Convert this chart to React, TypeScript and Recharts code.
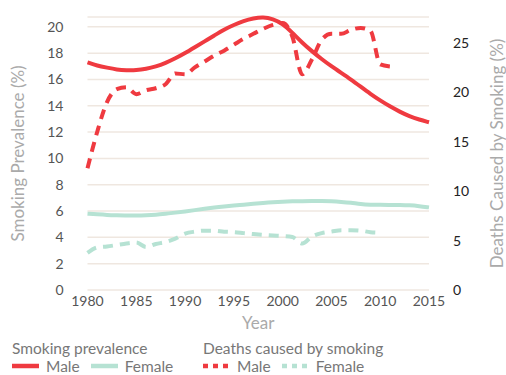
import React from 'react';
import { LineChart, Line, XAxis, YAxis, CartesianGrid } from 'recharts';

const years = [
  1980, 1981, 1982, 1983, 1984, 1985, 1986, 1987, 1988, 1989,
  1990, 1991, 1992, 1993, 1994, 1995, 1996, 1997, 1998, 1999,
  2000, 2001, 2002, 2003, 2004, 2005, 2006, 2007, 2008, 2009,
  2010, 2011, 2012, 2013, 2014, 2015,
];

const malePrevalence = [
  17.3, 17.05, 16.9, 16.75, 16.7, 16.7, 16.8, 16.98, 17.25, 17.6,
  18.0, 18.45, 18.9, 19.35, 19.8, 20.15, 20.45, 20.65, 20.75, 20.6,
  20.25, 19.55, 18.8, 18.15, 17.55, 17.0, 16.5, 16.0, 15.45, 14.9,
  14.4, 13.95, 13.55, 13.2, 12.95, 12.75,
];

const femalePrevalence = [
  5.8, 5.75, 5.7, 5.68, 5.66, 5.66, 5.68, 5.72, 5.8, 5.88,
  5.97, 6.07, 6.17, 6.27, 6.35, 6.42, 6.48, 6.55, 6.62, 6.68,
  6.72, 6.74, 6.75, 6.76, 6.76, 6.74, 6.7, 6.64, 6.52, 6.48,
  6.47, 6.47, 6.46, 6.44, 6.38, 6.28,
];

const maleDeaths = [
  12.3, 16.0, 19.0, 20.3, 20.5, 19.8, 20.2, 20.4, 20.8, 21.9,
  21.8, 22.5, 23.1, 23.7, 24.2, 24.8, 25.4, 25.9, 26.4, 26.8,
  27.0, 25.6, 21.8, 23.3, 25.3, 25.9, 25.9, 26.3, 26.5, 26.2,
  22.8, 22.6, null, null, null, null,
];

const femaleDeaths = [
  3.75, 4.3, 4.4, 4.55, 4.7, 4.8, 4.35, 4.65, 4.85, 5.2,
  5.7, 5.9, 6.0, 6.0, 5.9, 5.85, 5.75, 5.65, 5.57, 5.5,
  5.45, 5.35, 4.7, 5.4, 5.75, 5.9, 6.05, 6.05, 6.0, 5.85,
  5.8, null, null, null, null, null,
];

const xTicks = [1980, 1985, 1990, 1995, 2000, 2005, 2010, 2015];
const leftTicks = [0, 2, 4, 6, 8, 10, 12, 14, 16, 18, 20];
const rightTicks = [0, 5, 10, 15, 20, 25];

const data = years.map((year, i) => ({
  year,
  malePrev: malePrevalence[i],
  femalePrev: femalePrevalence[i],
  maleDeath: maleDeaths[i],
  femaleDeath: femaleDeaths[i],
}));

const RED = '#ef3a40';
const TEAL = '#b6e2d3';
const FONT = 'Lato, sans-serif';

const LegendSwatch = ({ color, dashed }: { color: string; dashed?: boolean }) => (
  <svg width={27} height={6} style={{ display: 'block' }}>
    <line
      x1={0}
      y1={3}
      x2={27}
      y2={3}
      stroke={color}
      strokeWidth={4.5}
      strokeDasharray={dashed ? '5 5' : undefined}
    />
  </svg>
);

const LegendItem = ({ color, dashed, text }: { color: string; dashed?: boolean; text: string }) => (
  <div style={{ display: 'flex', alignItems: 'center', marginRight: 11, height: 18 }}>
    <LegendSwatch color={color} dashed={dashed} />
    <span style={{ marginLeft: 7 }}>{text}</span>
  </div>
);

const legendBox: React.CSSProperties = {
  position: 'absolute',
  top: 339,
  color: '#777',
  fontSize: 15.5,
  lineHeight: '18px',
  whiteSpace: 'nowrap',
};

export default function App() {
  return (
    <div
      style={{
        position: 'absolute',
        left: 0,
        top: 0,
        width: 506,
        height: 375,
        background: '#fff',
        fontFamily: FONT,
        overflow: 'hidden',
      }}
    >
      <LineChart width={506} height={345} data={data} margin={{ top: 17, right: 0, left: 0, bottom: 15 }}>
        <CartesianGrid yAxisId="left" vertical={false} stroke="#efe7e0" strokeWidth={1.5} />
        <XAxis
          dataKey="year"
          type="number"
          domain={[1980, 2015]}
          ticks={xTicks}
          axisLine={false}
          tickLine={false}
          tickSize={0}
          tickMargin={6}
          height={40}
          tick={{ fill: '#555', fontSize: 14, fontFamily: FONT }}
          label={{ value: 'Year', position: 'insideBottom', offset: 1, fill: '#aaa', fontSize: 17, fontFamily: FONT }}
        />
        <YAxis
          yAxisId="left"
          domain={[0, 20]}
          ticks={leftTicks}
          axisLine={false}
          tickLine={false}
          tickSize={0}
          tickMargin={24}
          width={87.5}
          tick={{ fill: '#555', fontSize: 14, fontFamily: FONT }}
          label={{
            value: 'Smoking Prevalence (%)',
            angle: -90,
            position: 'insideLeft',
            offset: 18,
            fill: '#aaa',
            fontSize: 17,
            fontFamily: FONT,
            style: { textAnchor: 'middle' },
          }}
        />
        <YAxis
          yAxisId="right"
          orientation="right"
          domain={[0, 27.6]}
          ticks={rightTicks}
          axisLine={false}
          tickLine={false}
          tickSize={0}
          tickMargin={24}
          width={77}
          tick={{ fill: '#222', fontSize: 14, fontFamily: FONT }}
          label={{
            value: 'Deaths Caused by Smoking (%)',
            angle: -90,
            position: 'insideRight',
            offset: 9,
            fill: '#aaa',
            fontSize: 17,
            fontFamily: FONT,
            style: { textAnchor: 'middle' },
          }}
        />
        <Line yAxisId="left" type="basis" dataKey="femalePrev" stroke={TEAL} strokeWidth={4} dot={false} isAnimationActive={false} />
        <Line yAxisId="right" type="monotone" dataKey="femaleDeath" stroke={TEAL} strokeWidth={4} strokeDasharray="10 7" dot={false} isAnimationActive={false} />
        <Line yAxisId="left" type="basis" dataKey="malePrev" stroke={RED} strokeWidth={4} dot={false} isAnimationActive={false} />
        <Line yAxisId="right" type="monotone" dataKey="maleDeath" stroke={RED} strokeWidth={4} strokeDasharray="10 7" dot={false} isAnimationActive={false} />
      </LineChart>

      {/* legend, two groups */}
      <div style={{ ...legendBox, left: 12 }}>
        <div>Smoking prevalence</div>
        <div style={{ display: 'flex' }}>
          <LegendItem color={RED} text="Male" />
          <LegendItem color={TEAL} text="Female" />
        </div>
      </div>
      <div style={{ ...legendBox, left: 203 }}>
        <div>Deaths caused by smoking</div>
        <div style={{ display: 'flex' }}>
          <LegendItem color={RED} dashed text="Male" />
          <LegendItem color={TEAL} dashed text="Female" />
        </div>
      </div>
    </div>
  );
}
